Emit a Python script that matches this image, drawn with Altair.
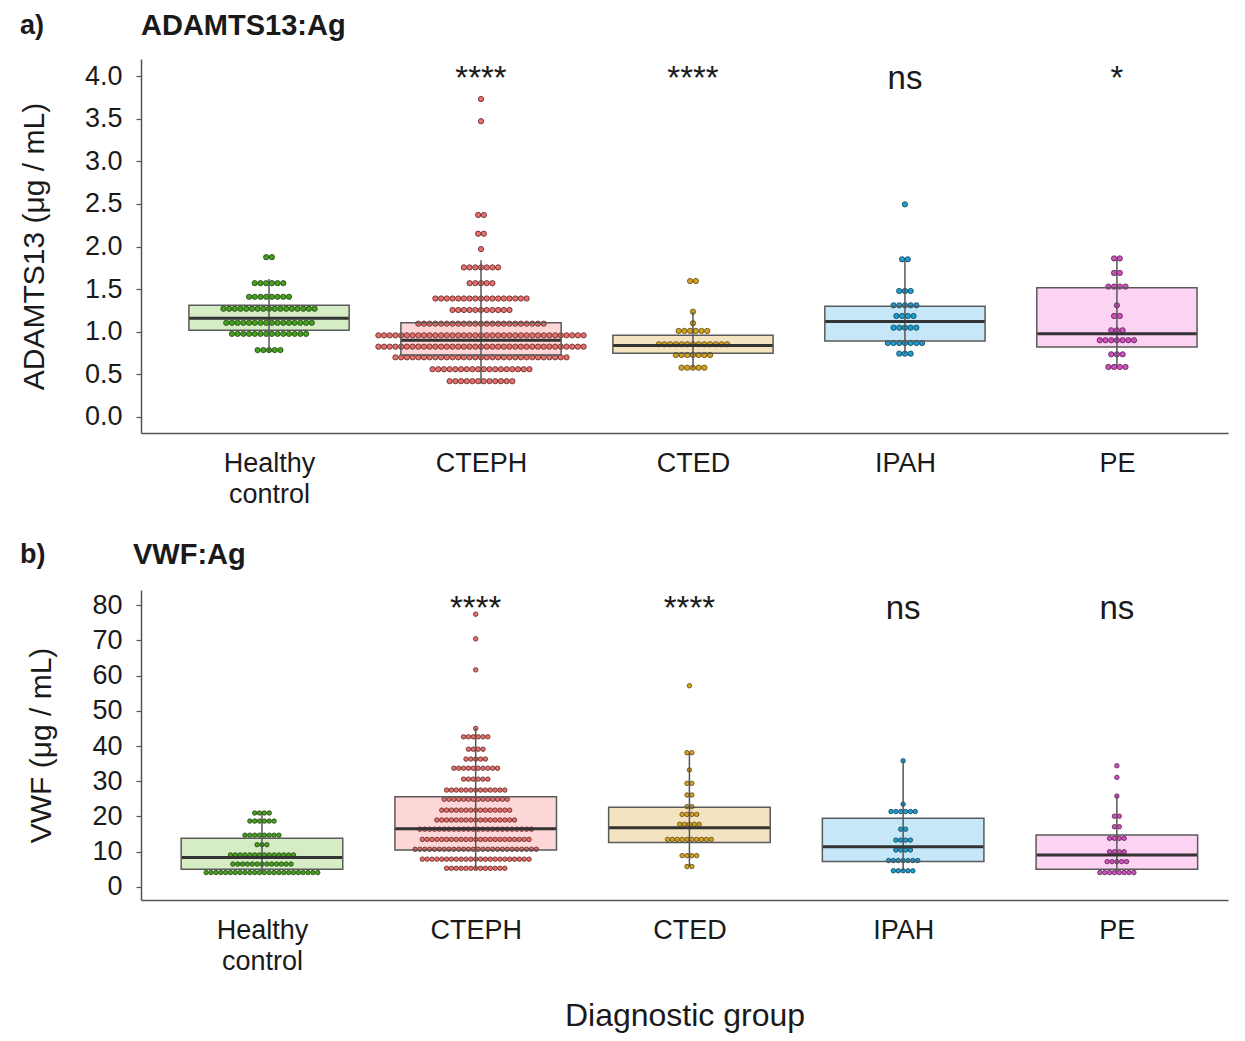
import json
import altair as alt
import pandas as pd

GROUPS = ["Healthy control", "CTEPH", "CTED", "IPAH", "PE"]

# ---------- ADAMTS13:Ag (panel a) : dot rows (value, count) ----------
A_VALS = [
    [1.875, 1.57, 1.41, 1.27, 1.105, 0.975, 0.785],
    [3.73, 3.47, 2.37, 2.15, 1.97, 1.755, 1.57, 1.39, 1.255, 1.095, 0.958, 0.825, 0.70, 0.56, 0.42],
    [1.595, 1.235, 1.10, 1.01, 0.853, 0.727, 0.578],
    [2.495, 1.85, 1.478, 1.31, 1.185, 1.048, 0.868, 0.743],
    [1.86, 1.69, 1.53, 1.31, 1.185, 1.017, 0.90, 0.735, 0.587],
]
A_COUNTS = [
    [2, 6, 8, 17, 16, 14, 5],
    [1, 1, 2, 2, 1, 7, 5, 17, 11, 23, 37, 37, 31, 18, 12],
    [2, 1, 1, 6, 13, 7, 5],
    [1, 2, 3, 5, 4, 5, 7, 3],
    [2, 2, 4, 1, 2, 3, 7, 3, 4],
]
A_Q1 = [1.017, 0.727, 0.747, 0.89, 0.82]
A_MED = [1.158, 0.90, 0.84, 1.12, 0.977]
A_Q3 = [1.31, 1.106, 0.96, 1.30, 1.517]
A_LO = [0.76, 0.39, 0.57, 0.743, 0.587]
A_HI = [1.62, 1.84, 1.235, 1.85, 1.86]
A_SIG = ["", "****", "****", "ns", "*"]

# ---------- VWF:Ag (panel b) ----------
B_VALS = [
    [21.0, 18.7, 14.7, 12.0, 9.1, 6.5, 4.1],
    [77.4, 70.4, 61.6, 45.0, 42.6, 39.1, 36.3, 33.7, 30.6, 27.5, 24.9, 21.8, 19.0, 16.4, 13.5, 10.7, 7.9, 5.3],
    [57.1, 38.1, 33.2, 29.4, 26.1, 22.8, 20.6, 17.8, 13.5, 8.9, 5.8],
    [35.8, 23.5, 21.4, 16.4, 13.3, 10.5, 7.5, 4.6],
    [34.4, 31.1, 25.8, 20.1, 17.1, 13.8, 10.0, 7.2, 4.1],
]
B_COUNTS = [
    [4, 6, 8, 3, 14, 13, 24],
    [1, 1, 1, 1, 6, 4, 5, 10, 6, 13, 14, 15, 17, 24, 23, 26, 23, 13],
    [1, 2, 1, 2, 2, 2, 4, 5, 10, 4, 2],
    [1, 1, 6, 2, 4, 4, 7, 5],
    [1, 1, 1, 2, 2, 4, 4, 5, 8],
]
B_Q1 = [5.0, 10.5, 12.6, 7.2, 5.0]
B_MED = [8.4, 16.5, 16.8, 11.4, 9.1]
B_Q3 = [13.8, 25.6, 22.6, 19.5, 14.75]
B_LO = [3.9, 5.0, 5.8, 4.6, 4.1]
B_HI = [21.2, 45.0, 38.1, 35.8, 25.8]
B_SIG = ["", "****", "****", "ns", "ns"]

BOX_FILL = ["#d5ecc5", "#fdd7d7", "#f3e3c0", "#c6e7f8", "#fdd3f4"]
DOT_FILL = ["#47a11f", "#e5716c", "#d6a31e", "#1c9fd0", "#d050bd"]
DOT_STROKE = ["#1e4210", "#5e2222", "#5a4510", "#0d3f55", "#5a1a50"]

FONT = "Liberation Sans"
TXT = "#1a1a1a"
LABEL_EXPR = "split(" + json.dumps(GROUPS) + "[datum.value], ' ')"


def dots_df(vals, counts):
    rows = []
    for gi, (vs, cs) in enumerate(zip(vals, counts)):
        for v, n in zip(vs, cs):
            for k in range(n):
                rows.append({"group": GROUPS[gi], "gi": gi, "value": v,
                             "slot": k - (n - 1) / 2})
    return pd.DataFrame(rows)


def panel(vals, counts, q1, med, q3, lo, hi, sig, sig_y, ydom, yvals, yfmt,
          ytitle, xdom, width, height, dot_step, dot_size, title, tag,
          tag_x, head_x, title_dy, xtitle):
    box = pd.DataFrame({"group": GROUPS, "gi": list(range(5)), "q1": q1,
                        "med": med, "q3": q3, "lo": lo, "hi": hi})
    sigdf = pd.DataFrame({"gi": list(range(5)), "sig": sig,
                          "yv": [sig_y] * 5})
    xscale = alt.Scale(domain=xdom, nice=False, zero=False)
    yscale = alt.Scale(domain=ydom, nice=False, zero=False)
    xaxis = alt.Axis(values=[0, 1, 2, 3, 4], labelExpr=LABEL_EXPR,
                     tickCount=5, ticks=False, tickSize=0, grid=False,
                     labelFontSize=27, labelOverlap=False,
                     labelPadding=17, labelLineHeight=31, labelColor=TXT,
                     labelFont=FONT, domainColor="#555555", domainWidth=1.5,
                     title=xtitle if xtitle else "", titleFontSize=32,
                     titleFontWeight="normal", titleColor=TXT, titleFont=FONT,
                     titlePadding=26)
    yaxis = alt.Axis(values=yvals, tickCount=len(yvals), format=yfmt,
                     grid=False, tickSize=5,
                     tickColor="#555555", tickWidth=1.2, labelFontSize=27,
                     labelPadding=14, labelColor=TXT, labelFont=FONT,
                     labelOverlap=False,
                     domainColor="#555555", domainWidth=1.5, title=ytitle,
                     titleFontSize=30, titleFontWeight="normal",
                     titleColor=TXT, titleFont=FONT, titlePadding=35)

    bb = alt.Chart(box).transform_calculate(
        xl="datum.gi - 0.378", xr="datum.gi + 0.378")

    fill_box = bb.mark_rect().encode(
        x=alt.X("xl:Q", scale=xscale, axis=xaxis),
        x2="xr:Q",
        y=alt.Y("q1:Q", scale=yscale, axis=yaxis),
        y2="q3:Q",
        fill=alt.Fill("group:N", scale=alt.Scale(domain=GROUPS, range=BOX_FILL),
                      legend=None),
    )
    dots = alt.Chart(dots_df(vals, counts)).transform_calculate(
        xpos=f"datum.gi + datum.slot * {dot_step}"
    ).mark_circle(size=dot_size, opacity=1, strokeWidth=0.8).encode(
        x=alt.X("xpos:Q", scale=xscale),
        y=alt.Y("value:Q", scale=yscale),
        fill=alt.Fill("group:N", scale=alt.Scale(domain=GROUPS, range=DOT_FILL),
                      legend=None),
        stroke=alt.Stroke("group:N",
                          scale=alt.Scale(domain=GROUPS, range=DOT_STROKE),
                          legend=None),
    )
    whisk = bb.mark_rule(color="#555555", strokeWidth=1.5).encode(
        x=alt.X("gi:Q", scale=xscale), y=alt.Y("lo:Q", scale=yscale), y2="hi:Q")
    median = bb.mark_rule(color="#333333", strokeWidth=3).encode(
        x=alt.X("xl:Q", scale=xscale), x2="xr:Q",
        y=alt.Y("med:Q", scale=yscale))
    outline = bb.mark_rect(fill="transparent", stroke="#5a5a5a",
                           strokeWidth=1.5).encode(
        x=alt.X("xl:Q", scale=xscale), x2="xr:Q",
        y=alt.Y("q1:Q", scale=yscale), y2="q3:Q")
    sigs = alt.Chart(sigdf).mark_text(fontSize=33, baseline="alphabetic",
                                      font=FONT, color=TXT).encode(
        x=alt.X("gi:Q", scale=xscale), y=alt.Y("yv:Q", scale=yscale),
        text="sig:N")
    head = alt.Chart(pd.DataFrame({"t": [title]})).mark_text(
        align="left", baseline="middle", fontSize=29, fontWeight="bold",
        font=FONT, color=TXT).encode(
        text="t:N", x=alt.value(head_x), y=alt.value(title_dy))
    tagm = alt.Chart(pd.DataFrame({"t": [tag]})).mark_text(
        align="left", baseline="middle", fontSize=27, fontWeight="bold",
        font=FONT, color=TXT).encode(
        text="t:N", x=alt.value(tag_x), y=alt.value(title_dy))

    return alt.layer(fill_box, dots, whisk, median, outline, sigs, head, tagm
                     ).resolve_scale(fill="independent").properties(
        width=width, height=height)


pa = panel(A_VALS, A_COUNTS, A_Q1, A_MED, A_Q3, A_LO, A_HI, A_SIG, 3.85,
           [-0.188, 4.2], [0, 0.5, 1, 1.5, 2, 2.5, 3, 3.5, 4], ".1f",
           "ADAMTS13 (μg / mL)", [-0.604, 4.524], 1087, 374, 0.0269, 28,
           "ADAMTS13:Ag", "a)", -121, 0, -33, None)
pb = panel(B_VALS, B_COUNTS, B_Q1, B_MED, B_Q3, B_LO, B_HI, B_SIG, 76.0,
           [-3.69, 84.26], [0, 10, 20, 30, 40, 50, 60, 70, 80], "d",
           "VWF (μg / mL)", [-0.566, 4.52], 1087, 310, 0.0227, 20,
           "VWF:Ag", "b)", -121, -8, -35, "Diagnostic group")

chart = alt.concat(pa, pb, columns=1, spacing=34, align="none").properties(
    padding={"left": 11, "top": 4, "right": 2, "bottom": 2}
).configure(font=FONT).configure_view(strokeWidth=0)

chart.save("out.html", embed_options={"renderer": "svg", "actions": False})
